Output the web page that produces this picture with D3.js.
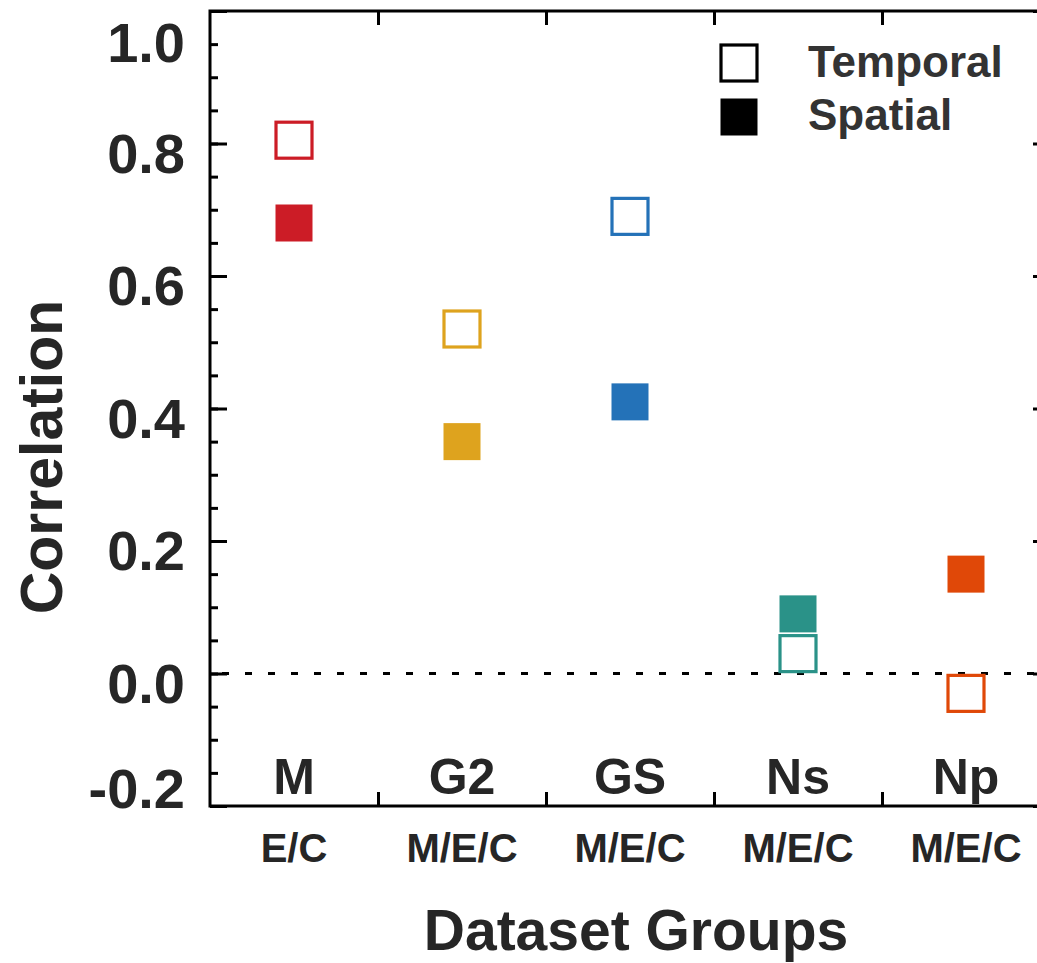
<!DOCTYPE html>
<html>
<head>
<meta charset="utf-8">
<script src="https://cdn.jsdelivr.net/npm/d3@7"></script>
<style>
  html, body { margin: 0; padding: 0; background: #fff; }
  svg { display: block; }
  text { font-family: "Liberation Sans", Arial, Helvetica, sans-serif; font-weight: bold; }
</style>
</head>
<body>
<script>
// Dataset groups and their sub-labels
const groups = ["M", "G2", "GS", "Ns", "Np"];
const subLabels = ["E/C", "M/E/C", "M/E/C", "M/E/C", "M/E/C"];
// Correlation values per group
const temporal = [0.805, 0.52, 0.69, 0.03, -0.03];
const spatial = [0.68, 0.35, 0.41, 0.09, 0.15];
const groupColors = ["#cc1c26", "#dea31e", "#2472b8", "#2a9288", "#e04808"];
// Y axis ticks
const yMajorTicks = [-0.2, 0.0, 0.2, 0.4, 0.6, 0.8, 1.0];
const yMinorTicks = d3.range(-0.2, 1.0001, 0.05).map(v => +v.toFixed(2));
const yTickLabels = ["-0.2", "0.0", "0.2", "0.4", "0.6", "0.8", "1.0"];
const legendLabels = ["Temporal", "Spatial"];

const W = 1037, H = 963;
const plot = { left: 210, right: 1050, top: 11, bottom: 806 };
const ink = "#262626";

const svg = d3.select("body").append("svg").attr("width", W).attr("height", H);
svg.append("rect").attr("width", W).attr("height", H).attr("fill", "#fff");

const x = d3.scaleBand().domain(groups).range([plot.left, plot.right]).padding(0);
const y = d3.scaleLinear().domain([-0.2, 1.0]).range([plot.bottom, plot.top]);

// inward-pointing ticks on all four sides
function yTicks(axisFn, xpos, values, size) {
  svg.append("g").attr("transform", `translate(${xpos},0)`)
    .call(axisFn(y).tickValues(values).tickSize(size).tickFormat(""))
    .call(g => g.select(".domain").remove())
    .call(g => g.selectAll("line").attr("stroke", "#000").attr("stroke-width", 3));
}
yTicks(d3.axisRight, plot.left, yMinorTicks, 8);
yTicks(d3.axisRight, plot.left, yMajorTicks, 17);
yTicks(d3.axisLeft, plot.right, yMinorTicks, 8);
yTicks(d3.axisLeft, plot.right, yMajorTicks, 17);

const bounds = groups.slice(1).map(g => x(g));
const xb = d3.scaleLinear().domain([plot.left, plot.right]).range([plot.left, plot.right]);
function xTicks(axisFn, ypos) {
  svg.append("g").attr("transform", `translate(0,${ypos})`)
    .call(axisFn(xb).tickValues(bounds).tickSize(14).tickFormat(""))
    .call(g => g.select(".domain").remove())
    .call(g => g.selectAll("line").attr("stroke", "#000").attr("stroke-width", 3));
}
xTicks(d3.axisTop, plot.bottom);
xTicks(d3.axisBottom, plot.top);

// frame
svg.append("rect")
  .attr("x", plot.left).attr("y", plot.top)
  .attr("width", plot.right - plot.left).attr("height", plot.bottom - plot.top)
  .attr("fill", "none").attr("stroke", "#000").attr("stroke-width", 3);

// zero reference line
svg.append("line")
  .attr("x1", plot.left).attr("x2", plot.right)
  .attr("y1", y(0)).attr("y2", y(0))
  .attr("stroke", "#000").attr("stroke-width", 3)
  .attr("stroke-dasharray", "7,16").attr("stroke-dashoffset", -12);

// y tick labels (kept inside the frame's vertical extent)
svg.append("g").selectAll("text").data(yMajorTicks).join("text")
  .attr("x", 185)
  .attr("y", d => Math.max(62, Math.min(808, y(d) + 29)))
  .attr("text-anchor", "end")
  .attr("font-size", 56)
  .attr("fill", ink)
  .text((d, i) => yTickLabels[i]);

// y axis title
svg.append("text")
  .attr("transform", `translate(62,457) rotate(-90)`)
  .attr("text-anchor", "middle")
  .attr("font-size", 59)
  .attr("fill", ink)
  .text("Correlation");

// group labels inside the plot
svg.append("g").selectAll("text").data(groups).join("text")
  .attr("x", d => x(d) + x.bandwidth() / 2)
  .attr("y", 794)
  .attr("text-anchor", "middle")
  .attr("font-size", 50)
  .attr("fill", ink)
  .text(d => d);

// sub labels under the axis
svg.append("g").selectAll("text").data(groups).join("text")
  .attr("x", d => x(d) + x.bandwidth() / 2)
  .attr("y", 862)
  .attr("text-anchor", "middle")
  .attr("font-size", 40)
  .attr("fill", ink)
  .text((d, i) => subLabels[i]);

// x axis title
svg.append("text")
  .attr("x", 636).attr("y", 950)
  .attr("text-anchor", "middle")
  .attr("font-size", 57)
  .attr("fill", ink)
  .text("Dataset Groups");

// markers
const S = 36;
const cx = d => x(d) + x.bandwidth() / 2;
svg.append("g").selectAll("rect").data(groups).join("rect")
  .attr("x", d => cx(d) - (S + 1) / 2)
  .attr("y", (d, i) => y(spatial[i]) - (S + 1) / 2)
  .attr("width", S + 1).attr("height", S + 1)
  .attr("fill", (d, i) => groupColors[i]);
svg.append("g").selectAll("rect").data(groups).join("rect")
  .attr("x", d => cx(d) - S / 2)
  .attr("y", (d, i) => y(temporal[i]) - S / 2)
  .attr("width", S).attr("height", S)
  .attr("fill", "#fff")
  .attr("stroke", (d, i) => groupColors[i])
  .attr("stroke-width", 3.2);

// legend
const lg = svg.append("g");
lg.append("rect").attr("x", 739 - S / 2).attr("y", 63 - S / 2)
  .attr("width", S).attr("height", S)
  .attr("fill", "#fff").attr("stroke", "#000").attr("stroke-width", 3.2);
lg.append("rect").attr("x", 739 - (S + 1) / 2).attr("y", 117 - (S + 1) / 2)
  .attr("width", S + 1).attr("height", S + 1).attr("fill", "#000");
lg.selectAll("text").data(legendLabels).join("text")
  .attr("x", 808)
  .attr("y", (d, i) => 77 + i * 53)
  .attr("font-size", 44)
  .attr("fill", "#333")
  .text(d => d);
</script>
</body>
</html>
